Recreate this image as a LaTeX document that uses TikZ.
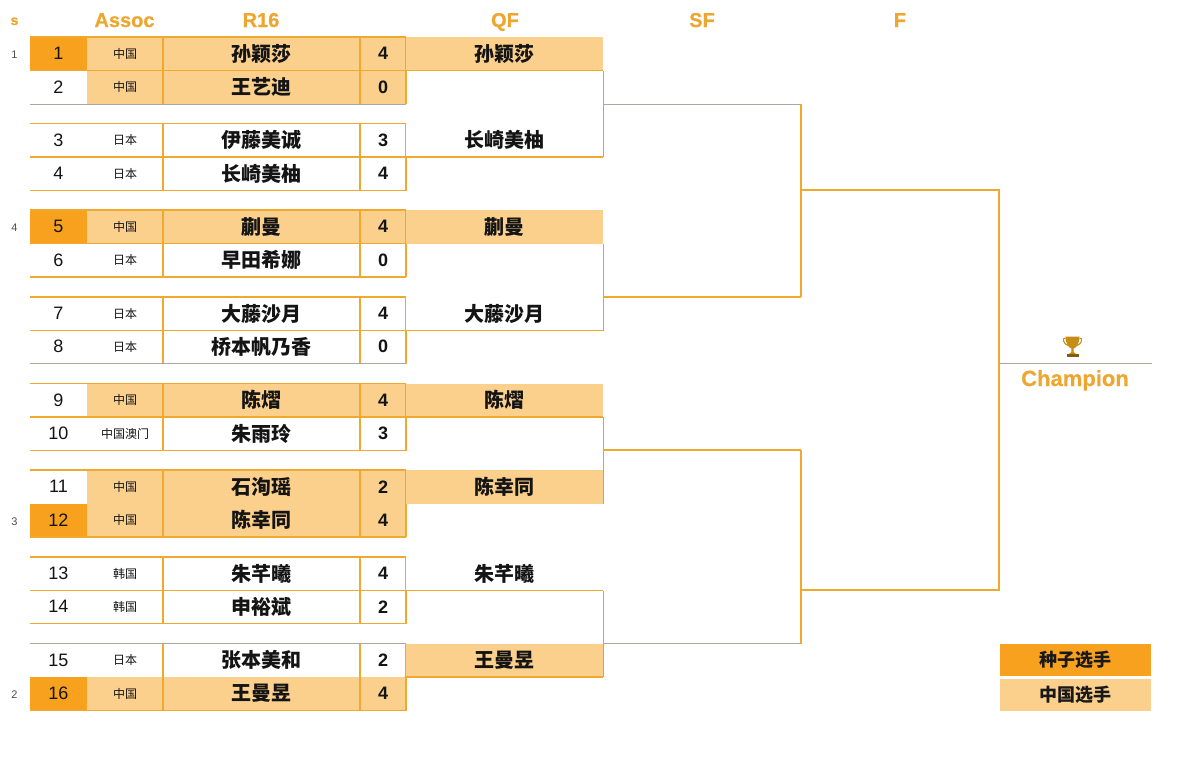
\documentclass[tikz,border=0pt]{standalone}
\usepackage{fontspec}
\setmainfont{Liberation Sans}[BoldFeatures={FakeBold=0.6}]
\newfontfamily\plainbold{Liberation Sans Bold}
\newfontfamily\cjk{Noto Sans CJK SC}
\definecolor{seedc}{HTML}{F8A11F}
\definecolor{chnc}{HTML}{FBCF8C}
\definecolor{linec}{HTML}{F0A92E}
\definecolor{grayc}{HTML}{ABA8A3}
\definecolor{headc}{HTML}{EDA630}
\definecolor{trophyc}{HTML}{C68E17}
\definecolor{trophyd}{HTML}{8A5A0B}
\definecolor{nofill}{HTML}{FFFFFF}
\newcommand{\fs}[1]{\fontsize{#1}{#1}\selectfont}
\tikzset{
  cell/.style={inner sep=0pt,outer sep=0pt,minimum height=33.5pt,anchor=north west,text=black!92},
  seedcell/.style={cell,minimum width=57pt,font=\fs{18}},
  assoccell/.style={cell,minimum width=76pt,font=\cjk\fs{12}},
  namecell/.style={cell,minimum width=197pt,font=\cjk\bfseries\fs{20}},
  gamecell/.style={cell,minimum width=46pt,font=\plainbold\fs{18}},
  qfcell/.style={cell,minimum width=197pt,font=\cjk\bfseries\fs{20}},
  rule/.style={draw=linec,line width=1.7pt},
  thin rule/.style={draw=grayc,line width=1pt},
  head/.style={inner sep=0pt,anchor=base,text=headc},
  seedlabel/.style={inner sep=0pt,font=\fs{11},text=black!70},
  legendcell/.style={inner sep=0pt,minimum width=151pt,minimum height=32pt,font=\cjk\bfseries\fs{18},text=black!90},
}
\begin{document}
\begin{tikzpicture}[x=1pt,y=-1pt]
\useasboundingbox (0,0) rectangle (1182,764);
% headers
\node[head,font=\bfseries\fs{14}] (hs) at (14.5,25) {s};
\node[head,font=\bfseries\fs{20}] (hassoc) at (124.5,27) {Assoc};
\node[head,font=\bfseries\fs{20}] (hr) at (261,27) {R16};
\node[head,font=\bfseries\fs{20}] (hq) at (505,27) {QF};
\node[head,font=\bfseries\fs{20}] (hsf) at (702,27) {SF};
\node[head,font=\bfseries\fs{20}] (hf) at (900,27) {F};
% rows
\foreach \i/\y/\sfill/\assoc/\afill/\pname/\games in {
  1/37/seedc/中国/chnc/孙颖莎/4,
  2/70.5/nofill/中国/chnc/王艺迪/0,
  3/123.5/nofill/日本/nofill/伊藤美诚/3,
  4/157/nofill/日本/nofill/长崎美柚/4,
  5/210/seedc/中国/chnc/蒯曼/4,
  6/243.5/nofill/日本/nofill/早田希娜/0,
  7/297/nofill/日本/nofill/大藤沙月/4,
  8/330/nofill/日本/nofill/桥本帆乃香/0,
  9/383.5/nofill/中国/chnc/陈熠/4,
  10/417/nofill/中国澳门/nofill/朱雨玲/3,
  11/470/nofill/中国/chnc/石洵瑶/2,
  12/503.5/seedc/中国/chnc/陈幸同/4,
  13/557/nofill/韩国/nofill/朱芊曦/4,
  14/590/nofill/韩国/nofill/申裕斌/2,
  15/643.5/nofill/日本/nofill/张本美和/2,
  16/677/seedc/中国/chnc/王曼昱/4}{
  \node[seedcell,fill=\sfill] (s\i) at (30,\y) {\raisebox{-1pt}{\i}};
  \node[assoccell,fill=\afill] (a\i) at (87,\y) {\raisebox{-1pt}{\assoc}};
  \node[namecell,fill=\afill] (n\i) at (163,\y) {\raisebox{2pt}{\pname}};
  \node[gamecell,fill=\afill] (g\i) at (360,\y) {\games};
  \draw[rule,line width=1.1pt] (a\i.north east) -- (a\i.south east);
  \draw[rule,line width=1.1pt] (g\i.north west) -- (g\i.south west);
  \draw[rule,line width=1.1pt] (g\i.north east) -- (g\i.south east);
}
% horizontal rules of the table
\foreach \i in {1,3,4,5,6,7,9,10,12,13,14,16}
  \draw[rule] (s\i.south west) -- (g\i.south east);
\foreach \i in {1,3,5,7,9,11,13}
  \draw[rule] (s\i.north west) -- (g\i.north east);
\draw[thin rule] (s2.south west) -- (g2.south east);
\draw[thin rule] (s8.south west) -- (g8.south east);
\draw[thin rule] (s15.north west) -- (g15.north east);
% QF
\foreach \i/\y/\qfill/\pname in {
  1/37/chnc/孙颖莎,
  2/123.5/nofill/长崎美柚,
  3/210/chnc/蒯曼,
  4/297/nofill/大藤沙月,
  5/383.5/chnc/陈熠,
  6/470/chnc/陈幸同,
  7/557/nofill/朱芊曦,
  8/643.5/chnc/王曼昱}{
  \node[qfcell,fill=\qfill] (q\i) at (406,\y) {\raisebox{2pt}{\pname}};
}
\foreach \i in {1,2,4,5,7,8}
  \draw[rule] (q\i.south west) -- (q\i.south east);
% junctions
\coordinate (j1) at (q1.south east |- 0,104);
\coordinate (j2) at (q3.south east |- 0,297);
\coordinate (j3) at (q5.south east |- 0,450);
\coordinate (j4) at (q7.south east |- 0,643.5);
\coordinate (k1) at (801,104);
\coordinate (k2) at (801,297);
\coordinate (k3) at (801,450);
\coordinate (k4) at (801,643.5);
\coordinate (m1) at (801,190);
\coordinate (m2) at (801,590);
\coordinate (f1) at (999,190);
\coordinate (f2) at (999,590);
\coordinate (c1) at (999,363.5);
\coordinate (c2) at (1152,363.5);
% QF brackets
\draw[thin rule] (q1.south east) -- (q2.south east);
\draw[thin rule] (q3.south east) -- (q4.south east);
\draw[thin rule] (q5.south east) -- (q6.south east);
\draw[thin rule] (q7.south east) -- (q8.south east);
% SF brackets
\draw[thin rule] (j1) -- (k1);
\draw[rule] (j2) -- (k2);
\draw[rule] (j3) -- (k3);
\draw[thin rule] (j4) -- (k4);
\draw[rule,line width=1.2pt] (k1) -- (k2);
\draw[rule,line width=1.2pt] (k3) -- (k4);
% F bracket
\draw[rule,line width=1.8pt,line cap=rect] (m1) -- (f1) -- (f2) -- (m2);
\draw[thin rule] (c1) -- (c2);
% seeds
\node[seedlabel] (l1) at (14.5,54.5) {1};
\node[seedlabel] (l4) at (14.5,228) {4};
\node[seedlabel] (l3) at (14.5,521.5) {3};
\node[seedlabel] (l2) at (14.5,695) {2};
% champion trophy
\fill[trophyc] (1065.5,336.5) -- (1079.5,336.5) .. controls (1079.5,344) and (1076,348) .. (1073.6,348.5) -- (1073.6,352) -- (1076,354) -- (1069,354) -- (1071.4,352) -- (1071.4,348.5) .. controls (1069,348) and (1065.5,344) .. (1065.5,336.5) -- cycle;
\draw[trophyc,line width=1.1pt] (1065.5,338) .. controls (1062,337.5) and (1063,344) .. (1068,345.5);
\draw[trophyc,line width=1.1pt] (1079.5,338) .. controls (1083,337.5) and (1082,344) .. (1077,345.5);
\fill[trophyd] (1066.5,354) rectangle (1078.5,356.5);
\node[head,font=\bfseries\fs{22}] (champ) at (1075,386) {Champion};
% legend
\node[legendcell,fill=seedc] (lg1) at (1075.5,660) {种子选手};
\node[legendcell,fill=chnc] (lg2) at (1075.5,694.5) {中国选手};
\end{tikzpicture}
\end{document}
